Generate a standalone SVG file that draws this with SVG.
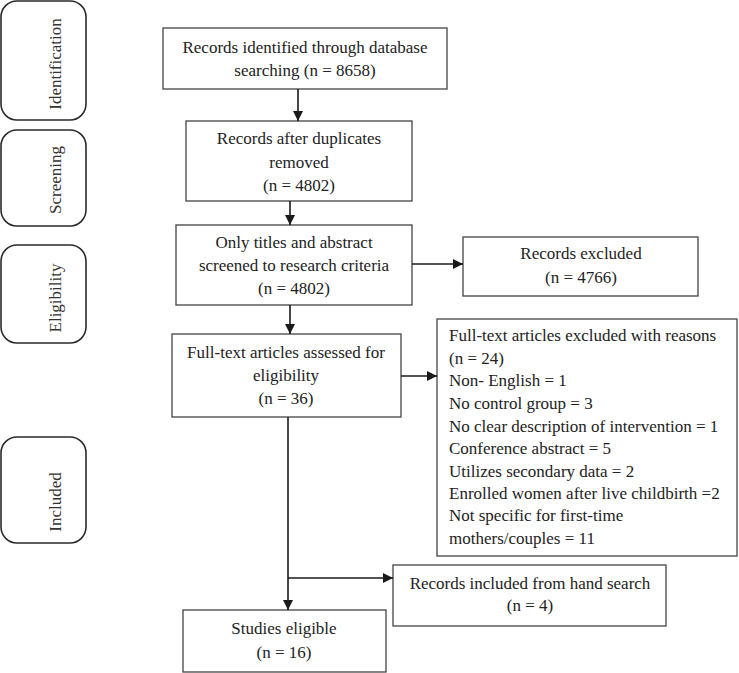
<svg xmlns="http://www.w3.org/2000/svg" width="739" height="673" viewBox="0 0 739 673">
<defs>
<marker id="ah" viewBox="0 0 10 10" refX="10" refY="5" markerWidth="10" markerHeight="10" markerUnits="userSpaceOnUse" orient="auto">
<path d="M0,0 L10,5 L0,10 Z" fill="#1a1a1a"/>
</marker>
<style>
.stage rect{fill:#fff;stroke:#2a2a2a;stroke-width:1.6}
.stage text{font-family:"Liberation Serif","Times New Roman",serif;font-size:17px;fill:#333;text-anchor:middle}
.box rect{fill:#fff;stroke:#444;stroke-width:1.3}
.box text{font-family:"Liberation Serif","Times New Roman",serif;font-size:17px;fill:#222;text-anchor:middle}
.box text.l{text-anchor:start}
.conn path{fill:none;stroke:#1a1a1a;stroke-width:1.6}
</style>
</defs>
<rect width="739" height="673" fill="#fff"/>
<g id="stage-identification" class="stage">
<rect x="1" y="1" width="85" height="119" rx="16"/>
<text transform="translate(61,64) rotate(-90)">Identification</text>
</g>
<g id="stage-screening" class="stage">
<rect x="1" y="130" width="85" height="96" rx="16"/>
<text transform="translate(61,180) rotate(-90)">Screening</text>
</g>
<g id="stage-eligibility" class="stage">
<rect x="1" y="245" width="85" height="98" rx="16"/>
<text transform="translate(61,298) rotate(-90)">Eligibility</text>
</g>
<g id="stage-included" class="stage">
<rect x="1" y="437" width="85" height="106" rx="16"/>
<text transform="translate(61,502) rotate(-90)">Included</text>
</g>
<g id="identified" class="box">
<rect x="163" y="28" width="284" height="61"/>
<text x="305" y="53">Records identified through database</text>
<text x="305" y="76">searching (n = 8658)</text>
</g>
<g id="after-duplicates" class="box">
<rect x="186" y="121" width="226" height="80"/>
<text x="299" y="144">Records after duplicates</text>
<text x="299" y="168">removed</text>
<text x="299" y="191">(n = 4802)</text>
</g>
<g id="screened" class="box">
<rect x="176" y="225" width="236" height="80"/>
<text x="294" y="248">Only titles and abstract</text>
<text x="294" y="271">screened to research criteria</text>
<text x="294" y="294">(n = 4802)</text>
</g>
<g id="records-excluded" class="box">
<rect x="463" y="237" width="235" height="59"/>
<text x="581" y="259">Records excluded</text>
<text x="581" y="283">(n = 4766)</text>
</g>
<g id="fulltext-assessed" class="box">
<rect x="172" y="334" width="229" height="83"/>
<text x="286" y="358">Full-text articles assessed for</text>
<text x="286" y="381">eligibility</text>
<text x="286" y="404">(n = 36)</text>
</g>
<g id="fulltext-excluded" class="box">
<rect x="437" y="319" width="300" height="237"/>
<text class="l" x="449" y="341">Full-text articles excluded with reasons</text>
<text class="l" x="449" y="364">(n = 24)</text>
<text class="l" x="449" y="386">Non- English = 1</text>
<text class="l" x="449" y="409">No control group = 3</text>
<text class="l" x="449" y="432">No clear description of intervention = 1</text>
<text class="l" x="449" y="454">Conference abstract = 5</text>
<text class="l" x="449" y="477">Utilizes secondary data = 2</text>
<text class="l" x="449" y="499">Enrolled women after live childbirth =2</text>
<text class="l" x="449" y="521">Not specific for first-time</text>
<text class="l" x="449" y="544">mothers/couples = 11</text>
</g>
<g id="hand-search" class="box">
<rect x="393" y="565" width="273" height="61"/>
<text x="530" y="589">Records included from hand search</text>
<text x="530" y="611">(n = 4)</text>
</g>
<g id="studies-eligible" class="box">
<rect x="183" y="610" width="203" height="62"/>
<text x="284" y="634">Studies eligible</text>
<text x="284" y="658">(n = 16)</text>
</g>
<g id="connectors" class="conn">
<path d="M298,89 V121" marker-end="url(#ah)"/>
<path d="M290,201 V225" marker-end="url(#ah)"/>
<path d="M412,264 H463" marker-end="url(#ah)"/>
<path d="M290,305 V334" marker-end="url(#ah)"/>
<path d="M401,376 H437" marker-end="url(#ah)"/>
<path d="M288,417 V610" marker-end="url(#ah)"/>
<path d="M288,578 H393" marker-end="url(#ah)"/>
</g>
</svg>
